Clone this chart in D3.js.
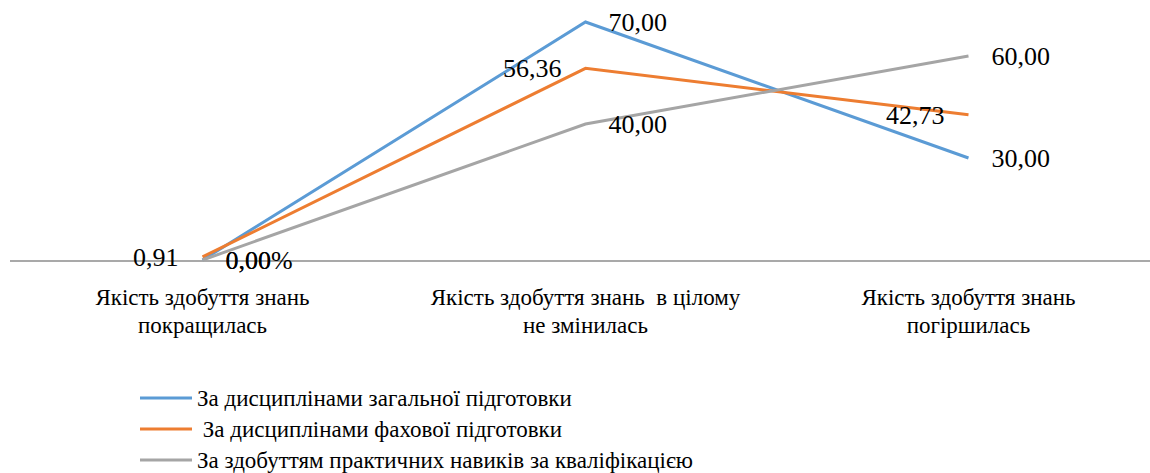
<!DOCTYPE html>
<html>
<head>
<meta charset="utf-8">
<script src="https://cdn.jsdelivr.net/npm/d3@7"></script>
<style>
	body { margin: 0; background: #fff; }
</style>
</head>
<body>
<svg class="quality-chart" width="1150" height="473"></svg>
<script>
// categories (two lines each) and series values
let categories = ['c1', 'c2', 'c3'];
let categoryLines = [
	['Якість здобуття знань', 'покращилась'],
	['Якість здобуття знань  в цілому', 'не змінилась'],
	['Якість здобуття знань', 'погіршилась']
];
let seriesNames = [
	'За дисциплінами загальної підготовки',
	' За дисциплінами фахової підготовки',
	'За здобуттям практичних навиків за кваліфікацією'
];
let generalValues = [0, 70, 30];
let professionalValues = [0.91, 56.36, 42.73];
let practicalValues = [0, 40, 60];
let generalLabels = ['0,00%', '70,00', '30,00'];
let professionalLabels = ['0,91', '56,36', '42,73'];
let practicalLabels = ['0,00', '40,00', '60,00'];

let colors = ['#5b9bd5', '#ed7d31', '#a5a5a5'];
let fontName = 'Liberation Serif';

let series = [
	{ values: generalValues, labels: generalLabels, side: 'right' },
	{ values: professionalValues, labels: professionalLabels, side: 'left' },
	{ values: practicalValues, labels: practicalLabels, side: 'right' }
];

let svg = d3.select('.quality-chart');

let x = d3.scaleBand().domain(categories).range([11, 1160]);
let y = d3.scaleLinear().domain([0, 70]).range([260, 22]);

function cx(i) { return x(categories[i]) + x.bandwidth() / 2; }

// x axis line
svg.append('line')
	.attr('x1', 10).attr('x2', 1150)
	.attr('y1', y(0) + 1).attr('y2', y(0) + 1)
	.attr('stroke', '#8c8c8c')
	.attr('stroke-width', 1.5);

// category labels
categoryLines.forEach(function(lines, i) {
	let t = svg.append('text')
		.attr('text-anchor', 'middle')
		.style('font-family', fontName)
		.attr('font-size', 23);
	lines.forEach(function(line, j) {
		t.append('tspan')
			.attr('x', cx(i))
			.attr('y', 305 + j * 28)
			.style('white-space', 'pre')
			.text(line);
	});
});

// lines
let lineGen = d3.line()
	.x(function(d, i) { return cx(i); })
	.y(function(d) { return y(d); });

series.forEach(function(s, k) {
	svg.append('path')
		.datum(s.values)
		.attr('d', lineGen)
		.attr('fill', 'none')
		.attr('stroke', colors[k])
		.attr('stroke-width', 3);
});

// data labels - labels sharing a spot go into one text element (as in the reference they sit on top of each other)
let placed = {};
series.forEach(function(s, k) {
	s.values.forEach(function(d, i) {
		let lx = s.side === 'right' ? cx(i) + 23 : cx(i) - 24;
		let ly = y(d) + 9;
		let key = s.side + i + Math.round(ly / 4);
		if (placed[key]) {
			placed[key].append('tspan')
				.attr('x', lx)
				.attr('y', ly)
				.text(s.labels[i]);
			return;
		}
		placed[key] = svg.append('text')
			.attr('x', lx)
			.attr('y', ly)
			.attr('text-anchor', s.side === 'right' ? 'start' : 'end')
			.style('font-family', fontName)
			.attr('font-size', 26)
			.text(s.labels[i]);
	});
});

// legend
seriesNames.forEach(function(name, k) {
	let ly = 398 + k * 31;
	svg.append('line')
		.attr('x1', 140).attr('x2', 192)
		.attr('y1', ly).attr('y2', ly)
		.attr('stroke', colors[k])
		.attr('stroke-width', 3);
	svg.append('text')
		.attr('x', 197)
		.attr('y', ly + 8)
		.style('font-family', fontName)
		.attr('font-size', 23)
		.style('white-space', 'pre')
		.text(name);
});
</script>
</body>
</html>
